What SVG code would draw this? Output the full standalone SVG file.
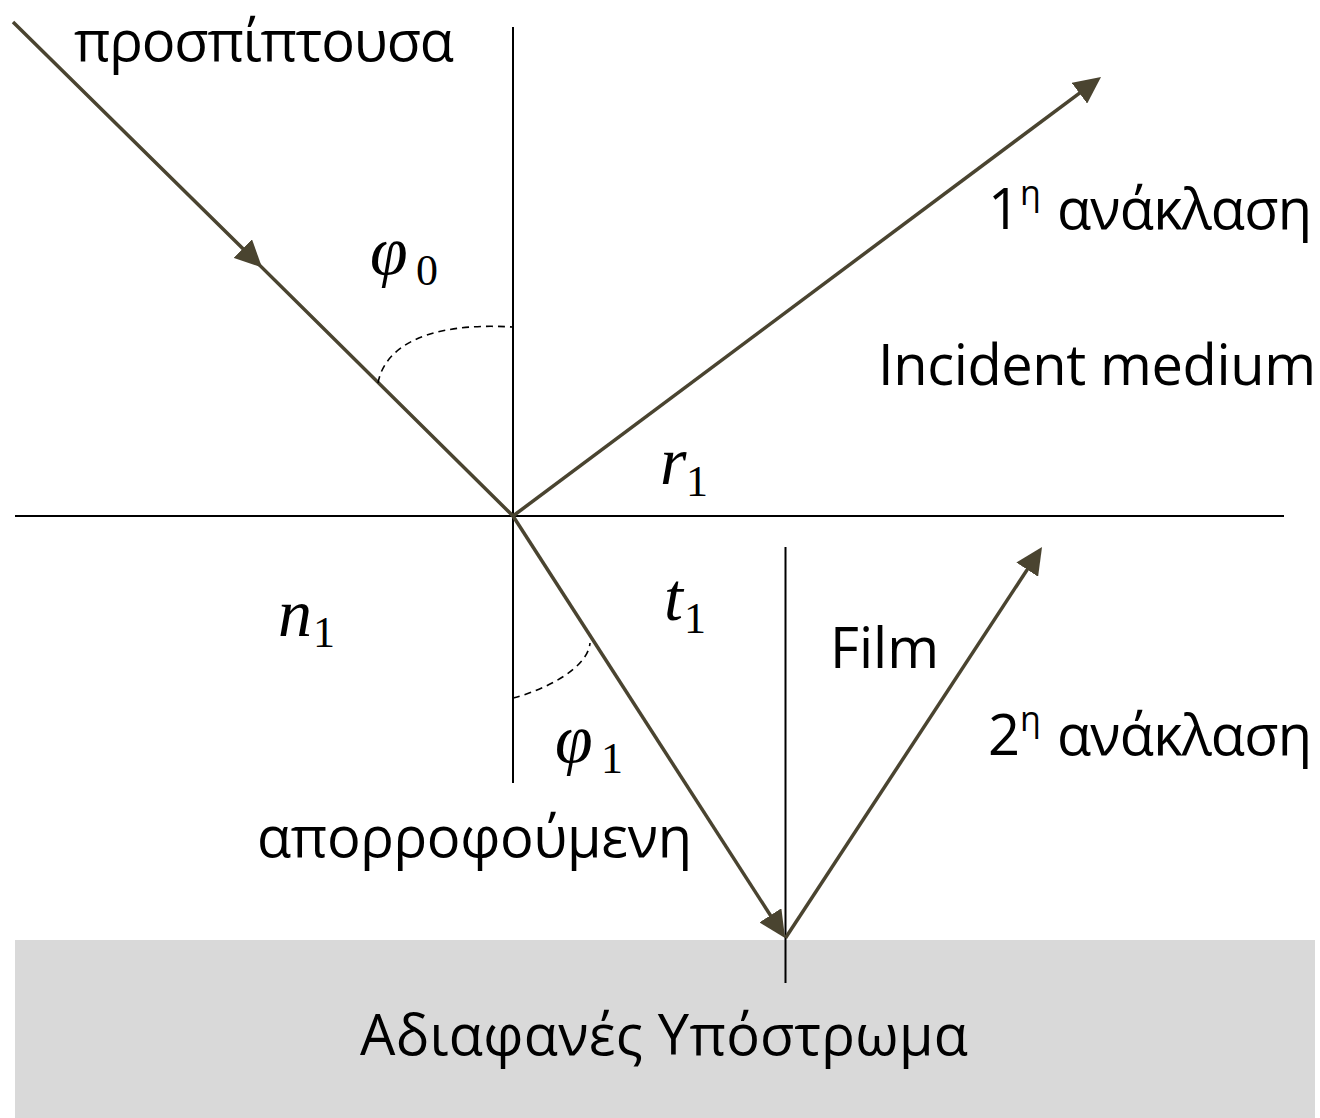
<svg xmlns="http://www.w3.org/2000/svg" width="1320" height="1118" viewBox="0 0 1320 1118">
<style>
.txt{font-family:"Open Sans","Noto Sans","DejaVu Sans",sans-serif;font-size:56px;fill:#000}
.math{font-family:"Liberation Serif","DejaVu Serif",serif;font-style:italic;font-size:68px;fill:#000}
.sub{font-family:"Liberation Serif","DejaVu Serif",serif;font-size:44px;fill:#000}
.ray{stroke:#4a4430;stroke-width:3.5;fill:none}
.axis{stroke:#000;stroke-width:2;fill:none}
.dash{stroke:#000;stroke-width:1.6;fill:none;stroke-dasharray:7 5}
</style>
<defs>
<marker id="ah" viewBox="0 0 27 26" refX="14" refY="13" markerWidth="27" markerHeight="26" markerUnits="userSpaceOnUse" orient="auto">
<path d="M0,0 L27,13 L0,26 z" fill="#4a4430"/>
</marker>
</defs>
<g id="substrate">
<rect x="15" y="940" width="1300" height="178" fill="#d9d9d9"/>
<text class="txt" x="664" y="1055" text-anchor="middle" textLength="608">Αδιαφανές Υπόστρωμα</text>
</g>
<g id="axes">
<line class="axis" x1="15" y1="516" x2="1284" y2="516"/>
<line class="axis" x1="513" y1="27" x2="513" y2="783"/>
<line class="axis" x1="785.5" y1="547" x2="785.5" y2="983"/>
</g>
<g id="connectors">
<path id="incident" class="ray" d="M13 22 L252.8 258.4 L513 516" marker-mid="url(#ah)"/>
<line id="reflect1" class="ray" x1="513" y1="516" x2="1090.6" y2="84.8" marker-end="url(#ah)"/>
<line id="transmit" class="ray" x1="513" y1="516" x2="778" y2="927.1" marker-end="url(#ah)"/>
<line id="reflect2" class="ray" x1="785.5" y1="938" x2="1034.9" y2="557.9" marker-end="url(#ah)"/>
<path class="dash" d="M378 383 C385 345 430 322 513 327"/>
<path class="dash" d="M513 698 C545 690 588 668 590 643"/>
</g>
<g id="label-incident"><text class="txt" x="74" y="61" font-size="53" textLength="380">προσπίπτουσα</text></g>
<g id="label-refl1"><text class="txt" x="988" y="229">1<tspan font-size="34" dy="-24">η</tspan><tspan dy="24" x="1057" textLength="255">ανάκλαση</tspan></text></g>
<g id="label-medium"><text class="txt" x="878" y="385" textLength="438">Incident medium</text></g>
<g id="label-film"><text class="txt" x="830" y="668">Film</text></g>
<g id="label-refl2"><text class="txt" x="988" y="755">2<tspan font-size="34" dy="-24">η</tspan><tspan dy="24" x="1057" textLength="255">ανάκλαση</tspan></text></g>
<g id="label-absorbed"><text class="txt" x="257" y="857" textLength="435">απορροφούμενη</text></g>
<g id="label-phi0"><text class="math" x="370" y="274">φ</text><text class="sub" x="416" y="285">0</text></g>
<g id="label-r1"><text class="math" x="660" y="484">r</text><text class="sub" x="686" y="496">1</text></g>
<g id="label-t1"><text class="math" x="664" y="620">t</text><text class="sub" x="684" y="633">1</text></g>
<g id="label-n1"><text class="math" x="278" y="636">n</text><text class="sub" x="313" y="647">1</text></g>
<g id="label-phi1"><text class="math" x="555" y="762">φ</text><text class="sub" x="601" y="773">1</text></g>
</svg>
